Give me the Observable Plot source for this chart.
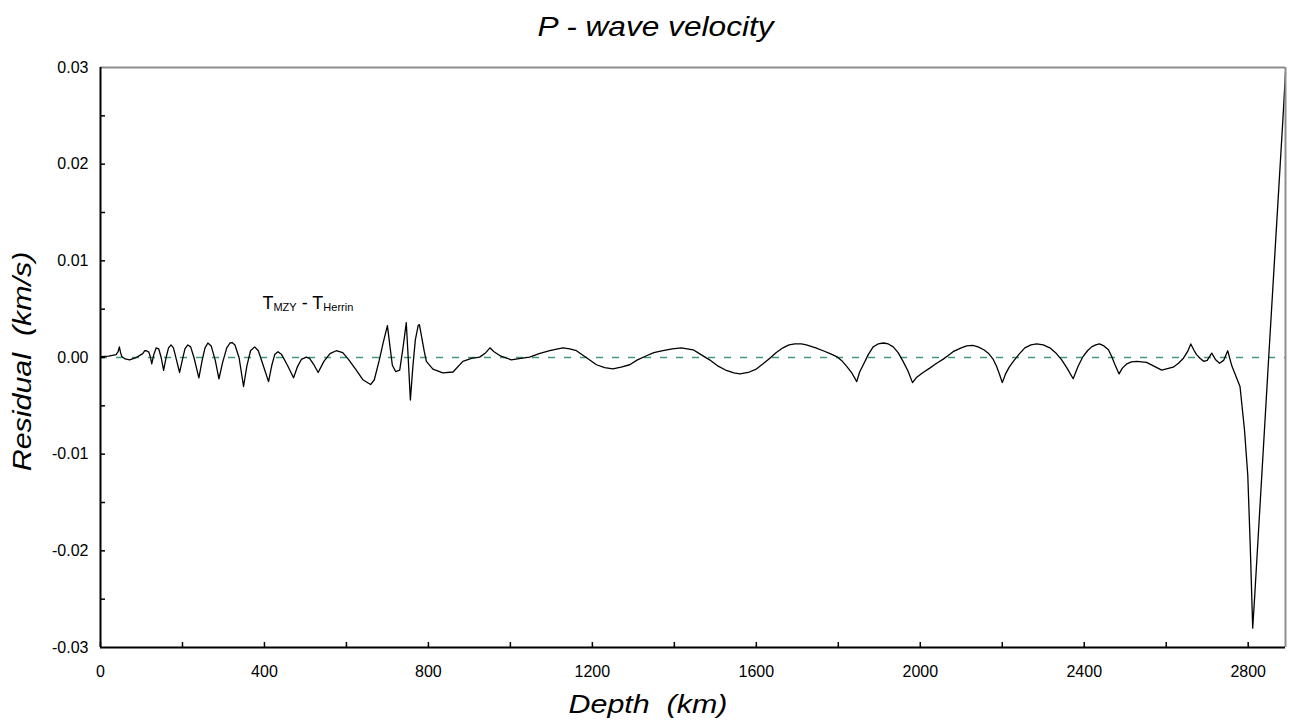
<!DOCTYPE html>
<html>
<head>
<meta charset="utf-8">
<script src="https://cdn.jsdelivr.net/npm/d3@7"></script>
<script src="https://cdn.jsdelivr.net/npm/@observablehq/plot@0.6"></script>
<style>
  html, body { margin: 0; padding: 0; background: #fff; }
  body { width: 1290px; height: 726px; overflow: hidden; font-family: "Liberation Sans", Arial, sans-serif; }
  #title { height: 50px; box-sizing: border-box; padding-top: 2px; padding-left: 22px; line-height: 50px; text-align: center; font-size: 28px; font-style: italic; color: #000; }
  #title span { display: inline-block; transform: scaleX(1.13); }
  #chart svg { display: block; }
</style>
</head>
<body>
<div id="title"><span>P - wave velocity</span></div>
<div id="chart"></div>
<script>
// Depth (km)
const depth = [0, 20, 38, 43, 46, 49, 52, 60, 71, 85, 95, 103, 108, 112, 118, 122, 125, 130, 136, 142,
  148, 154, 160, 166, 172, 178, 185, 193, 200, 206, 213, 220, 228, 240, 248, 255, 262, 270, 280, 289,
  298, 308, 316, 321, 328, 338, 349, 357, 366, 376, 385, 396, 410, 418, 425, 433, 442, 456, 471, 480,
  490, 502, 510, 520, 531, 545, 560, 575, 591, 605, 624, 640, 659, 668, 680, 690, 700, 706, 712, 720,
  730, 738, 746, 750, 756, 762, 768, 775, 778, 784, 790, 795, 811, 835, 860, 884, 905, 925, 940, 950,
  960, 974, 1002, 1025, 1047, 1070, 1096, 1110, 1128, 1145, 1161, 1185, 1210, 1230, 1250, 1270, 1291, 1310, 1332, 1350,
  1372, 1395, 1417, 1446, 1465, 1486, 1507, 1527, 1545, 1560, 1580, 1600, 1615, 1633, 1648, 1665, 1680, 1694, 1710, 1722,
  1745, 1763, 1780, 1796, 1810, 1820, 1833, 1845, 1852, 1861, 1873, 1885, 1897, 1910, 1922, 1934, 1946, 1958, 1970, 1981,
  1990, 2005, 2023, 2040, 2056, 2068, 2080, 2097, 2113, 2128, 2141, 2155, 2166, 2178, 2186, 2193, 2200, 2208, 2217, 2227,
  2240, 2255, 2270, 2284, 2300, 2316, 2330, 2345, 2358, 2373, 2385, 2397, 2408, 2418, 2428, 2437, 2448, 2459, 2467, 2475,
  2485, 2493, 2504, 2515, 2528, 2540, 2552, 2570, 2589, 2603, 2617, 2630, 2642, 2652, 2660, 2667, 2674, 2683, 2692, 2700,
  2711, 2720, 2730, 2740, 2750, 2760, 2780, 2791, 2799, 2805, 2811, 2816, 2850, 2886, 2891];
// Residual (units of 0.001 km/s)
const residualMilli = [0.1, 0.15, 0.3, 0.6, 1.1, 0.5, 0.1, -0.15, -0.24, -0.05, 0.2, 0.4, 0.7, 0.7, 0.55, 0.0, -0.65, 0.3, 1.0, 0.9,
  0.0, -1.34, 0.0, 1.0, 1.3, 1.0, -0.2, -1.55, -0.2, 0.9, 1.3, 1.1, 0.0, -2.1, -0.3, 1.0, 1.5, 1.2, -0.3, -2.2,
  -0.5, 1.0, 1.5, 1.55, 1.3, 0.0, -3.0, -0.9, 0.7, 1.1, 0.7, -0.7, -2.5, -0.8, 0.3, 0.6, 0.3, -0.8, -2.1, -1.0,
  -0.2, 0.04, -0.1, -0.7, -1.55, -0.4, 0.4, 0.7, 0.5, -0.2, -1.3, -2.3, -2.8, -2.3, -0.3, 1.6, 3.3, 1.2, -0.8, -1.45,
  -1.3, 1.0, 3.6, 0.5, -4.4, -1.0, 1.8, 3.3, 3.4, 2.0, 0.6, -0.4, -1.2, -1.6, -1.5, -0.4, -0.1, 0.04, 0.5, 1.0,
  0.6, 0.2, -0.24, -0.1, 0.04, 0.4, 0.7, 0.85, 1.0, 0.9, 0.7, 0.0, -0.75, -1.05, -1.17, -1.0, -0.75, -0.25, 0.18, 0.5,
  0.7, 0.9, 1.0, 0.8, 0.3, -0.24, -0.9, -1.34, -1.6, -1.7, -1.55, -1.2, -0.7, -0.07, 0.5, 1.0, 1.3, 1.4, 1.4, 1.3,
  1.0, 0.7, 0.4, 0.1, -0.4, -0.9, -1.6, -2.5, -1.5, -0.75, 0.3, 1.1, 1.4, 1.5, 1.4, 1.1, 0.5, -0.4, -1.4, -2.6,
  -2.1, -1.6, -1.1, -0.6, -0.17, 0.2, 0.6, 0.95, 1.2, 1.25, 1.1, 0.8, 0.45, -0.2, -0.9, -1.7, -2.6, -1.7, -1.0, -0.4,
  0.3, 1.0, 1.3, 1.4, 1.3, 1.0, 0.5, -0.24, -1.1, -2.2, -0.9, 0.1, 0.7, 1.1, 1.3, 1.4, 1.2, 0.8, 0.1, -0.75,
  -1.7, -1.1, -0.65, -0.45, -0.4, -0.45, -0.5, -0.9, -1.3, -1.15, -1.0, -0.6, -0.07, 0.6, 1.4, 0.8, 0.3, -0.1, -0.4, -0.3,
  0.45, -0.2, -0.6, -0.3, 0.7, -0.86, -3.0, -7.5, -12.2, -19.5, -28.0, -24.6, 0.0, 25.6, 29.5];

const xDomain = [0, 2891];
const yDomain = [-0.03, 0.03];
const xTicks = [0, 400, 800, 1200, 1600, 2000, 2400, 2800];
const xMinorTicks = [0, 200, 400, 600, 800, 1000, 1200, 1400, 1600, 1800, 2000, 2200, 2400, 2600, 2800];
const yTicks = [-0.03, -0.02, -0.01, 0, 0.01, 0.02, 0.03];
const yMinorTicks = [-0.025, -0.02, -0.015, -0.01, -0.005, 0, 0.005, 0.01, 0.015, 0.02, 0.025];
const zeroLine = [0];
const xLabel = ["Depth\u00a0\u00a0(km)"];
const yLabel = ["Residual\u00a0\u00a0(km/s)"];
const annotations = [{depth: 395, value: 0.0050, text: "T|MZY| - T|Herrin"}];

const data = depth.map((d, i) => ({depth: d, residual: residualMilli[i] / 1000}));

const chart = Plot.plot({
  width: 1290,
  height: 676,
  marginTop: 17,
  marginBottom: 79,
  marginLeft: 100,
  marginRight: 5,
  x: {domain: xDomain},
  y: {domain: yDomain},
  style: {fontFamily: "'Liberation Sans', Arial, sans-serif", background: "white", color: "black", overflow: "visible"},
  marks: [
    Plot.ruleY(zeroLine, {stroke: "#3f9a76", strokeWidth: 1.5, strokeDasharray: "7,9"}),
    Plot.line(data, {x: "depth", y: "residual", stroke: "black", strokeWidth: 1.3, strokeLinejoin: "round"}),
    Plot.axisX(xMinorTicks, {tickSize: 5, insetBottom: 5, strokeWidth: 1.5, tickFormat: () => "", label: null}),
    Plot.axisX(xTicks, {tickSize: 0, tickPadding: 18, fontSize: 16, tickFormat: d => String(d), label: null}),
    Plot.axisY(yMinorTicks, {tickSize: 5, insetLeft: 5, strokeWidth: 1.5, tickFormat: () => "", label: null}),
    Plot.axisY(yTicks, {tickSize: 0, tickPadding: 12, fontSize: 16, tickFormat: d => d.toFixed(2), label: null}),
    Plot.ruleX([xDomain[1]], {stroke: "#8e8e8e", strokeWidth: 2}),
    Plot.ruleY([yDomain[1]], {stroke: "#8e8e8e", strokeWidth: 2}),
    Plot.ruleX([xDomain[0]], {stroke: "black", strokeWidth: 2}),
    Plot.ruleY([yDomain[0]], {stroke: "black", strokeWidth: 2}),
    Plot.text(xLabel, {text: d => d, frameAnchor: "bottom", textAnchor: "middle", lineAnchor: "bottom", dx: -45, dy: 65, fontSize: 26, fontStyle: "italic", fill: "black"}),
    Plot.text(yLabel, {text: d => d, frameAnchor: "left", textAnchor: "middle", lineAnchor: "middle", dx: -78, dy: 4, rotate: -90, fontSize: 26, fontStyle: "italic", fill: "black"}),
    Plot.text(annotations, {x: "depth", y: "value", text: "text", textAnchor: "start", lineAnchor: "bottom", fontSize: 18, fill: "black"})
  ]
});

const ns = "http://www.w3.org/2000/svg";
chart.querySelectorAll("text").forEach(t => {
  const s = t.textContent;
  // Subscripts in the annotation
  if (s.includes("|")) {
    const parts = s.split("|");
    while (t.firstChild) t.removeChild(t.firstChild);
    parts.forEach((p, i) => {
      const ts = document.createElementNS(ns, "tspan");
      ts.textContent = p;
      if (i % 2 === 1) {
        ts.setAttribute("font-size", "11");
        ts.setAttribute("dy", "2");
      } else if (i > 0) {
        ts.setAttribute("dy", "-2");
      }
      t.appendChild(ts);
    });
  }
  // Slightly wide axis titles as in the reference
  if (s === xLabel[0] || s === yLabel[0]) {
    const tr = t.getAttribute("transform") || "";
    t.setAttribute("transform", (tr + " scale(1.17,1)").trim());
  }
});

document.getElementById("chart").appendChild(chart);
</script>
</body>
</html>
